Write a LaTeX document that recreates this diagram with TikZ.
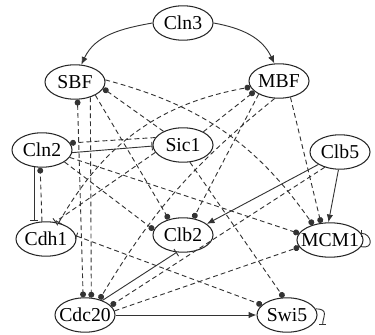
\documentclass[tikz,border=0pt]{standalone}
\usepackage{fontspec}
\setmainfont{Liberation Serif}
\usetikzlibrary{arrows.meta,shapes.geometric}

\tikzset{
  gene/.style={ellipse, draw=black!85, line width=0.75pt, minimum width=1.5cm,
    minimum height=0.86cm, inner xsep=-4pt, inner ysep=0pt,
    font=\fontsize{14}{16}\selectfont},
  link/.style={draw=black!80, line width=0.65pt},
  infer/.style={link, dash pattern=on 3.4pt off 2.3pt},
  todot/.style={-{Circle[length=4.2pt]}},
  dotdot/.style={{Circle[length=4.2pt]}-{Circle[length=4.2pt]}},
  tobar/.style={-{Bar[width=6pt]}},
  toarr/.style={-{Latex[length=5.5pt,width=4.5pt]}},
}

\begin{document}
\begin{tikzpicture}[x=0.025cm,y=0.025cm]
	\useasboundingbox (0,0) rectangle (375,335);

	% Draw the nodes
	\node[gene] (cln3)  at (183,312) {Cln3};
	\node[gene] (sbf)   at (75,253)  {SBF};
	\node[gene] (mbf)   at (279,254) {MBF};
	\node[gene] (cln2)  at (42,185)  {Cln2};
	\node[gene] (sic1)  at (183,190) {Sic1};
	\node[gene] (clb5)  at (340,183) {Clb5};
	\node[gene] (cdh1)  at (46,96)   {Cdh1};
	\node[gene] (clb2)  at (183,100) {Clb2};
	\node[gene] (mcm1)  at (330,95)  {MCM1};
	\node[gene] (cdc20) at (85,20)   {Cdc20};
	\node[gene] (swi5)  at (287,20)  {Swi5};

	% Draw the solid links
	\draw[link,toarr] (cln3.west) to[out=190,in=65] (sbf.70);
	\draw[link,toarr] (cln3.east) to[out=-10,in=115] (mbf.105);
	\draw[link,tobar] (cln2.-5) -- (sic1.182);
	\draw[link,tobar] (cln2.-115) -- (cln2.-115 |- cdh1.north);
	\draw[link,toarr] (clb5.-150) -- (clb2.25);
	\draw[link,toarr] (clb5.-95) -- (mcm1.95);
	\draw[link,tobar] (cdc20.40) -- (clb2.-110);
	\draw[link,toarr] (cdc20.east) -- (swi5.west);

	% Draw the self loops
	\draw[link,-{Bar[width=5pt]}] (mcm1.-12) .. controls +(14,-3) and +(10,0) .. (mcm1.12);
	\draw[link,-{Bar[width=5pt]}] (swi5.12) .. controls +(14,0) and +(0,8) .. ++(7,-16);

	% Draw the dashed links
	\draw[infer,todot] (sic1.165) -- (cln2.14);
	\draw[infer,todot] (sic1.145) -- (sbf.-13);
	\draw[infer,todot] (sic1.33) -- (mbf.-157);
	\draw[infer,tobar] (sic1.195) -- (cdh1.62);
	\draw[infer,todot] (sic1.-68) -- (swi5.101);
	\draw[infer,todot] (cdh1.103) -- (cln2.-96);
	\draw[infer,{Bar[width=5pt]}-{Circle[length=4.2pt]}] (cdh1.52) to[bend left=25] (mbf.-168);
	\draw[infer,{Bar[width=5pt]}-{Circle[length=4.2pt]}] (cdh1.6) -- (swi5.158);
	\draw[infer,dotdot] (sbf.-82) -- (cdc20.96);
	\draw[infer,todot] (sbf.-45) -- (cdc20.70);
	\draw[infer,todot] (sbf.-33) -- (clb2.132);
	\draw[infer,todot] (sbf.4) to[bend left=20] (mcm1.138);
	\draw[infer,todot] (mbf.-147) -- (clb2.58);
	\draw[infer,todot] (mbf.-55) -- (mcm1.118);
	\draw[infer,todot] (mbf.-104) to[bend right=10] (cdc20.47);
	\draw[infer,todot] (cln2.-28) -- (clb2.170);
	\draw[infer,todot] (cln2.-15) -- (mcm1.168);
	\draw[infer,todot] (cdc20.8) -- (mcm1.-167);
	\draw[infer,todot] (clb5.-135) -- (cdc20.20);

\end{tikzpicture}
\end{document}
